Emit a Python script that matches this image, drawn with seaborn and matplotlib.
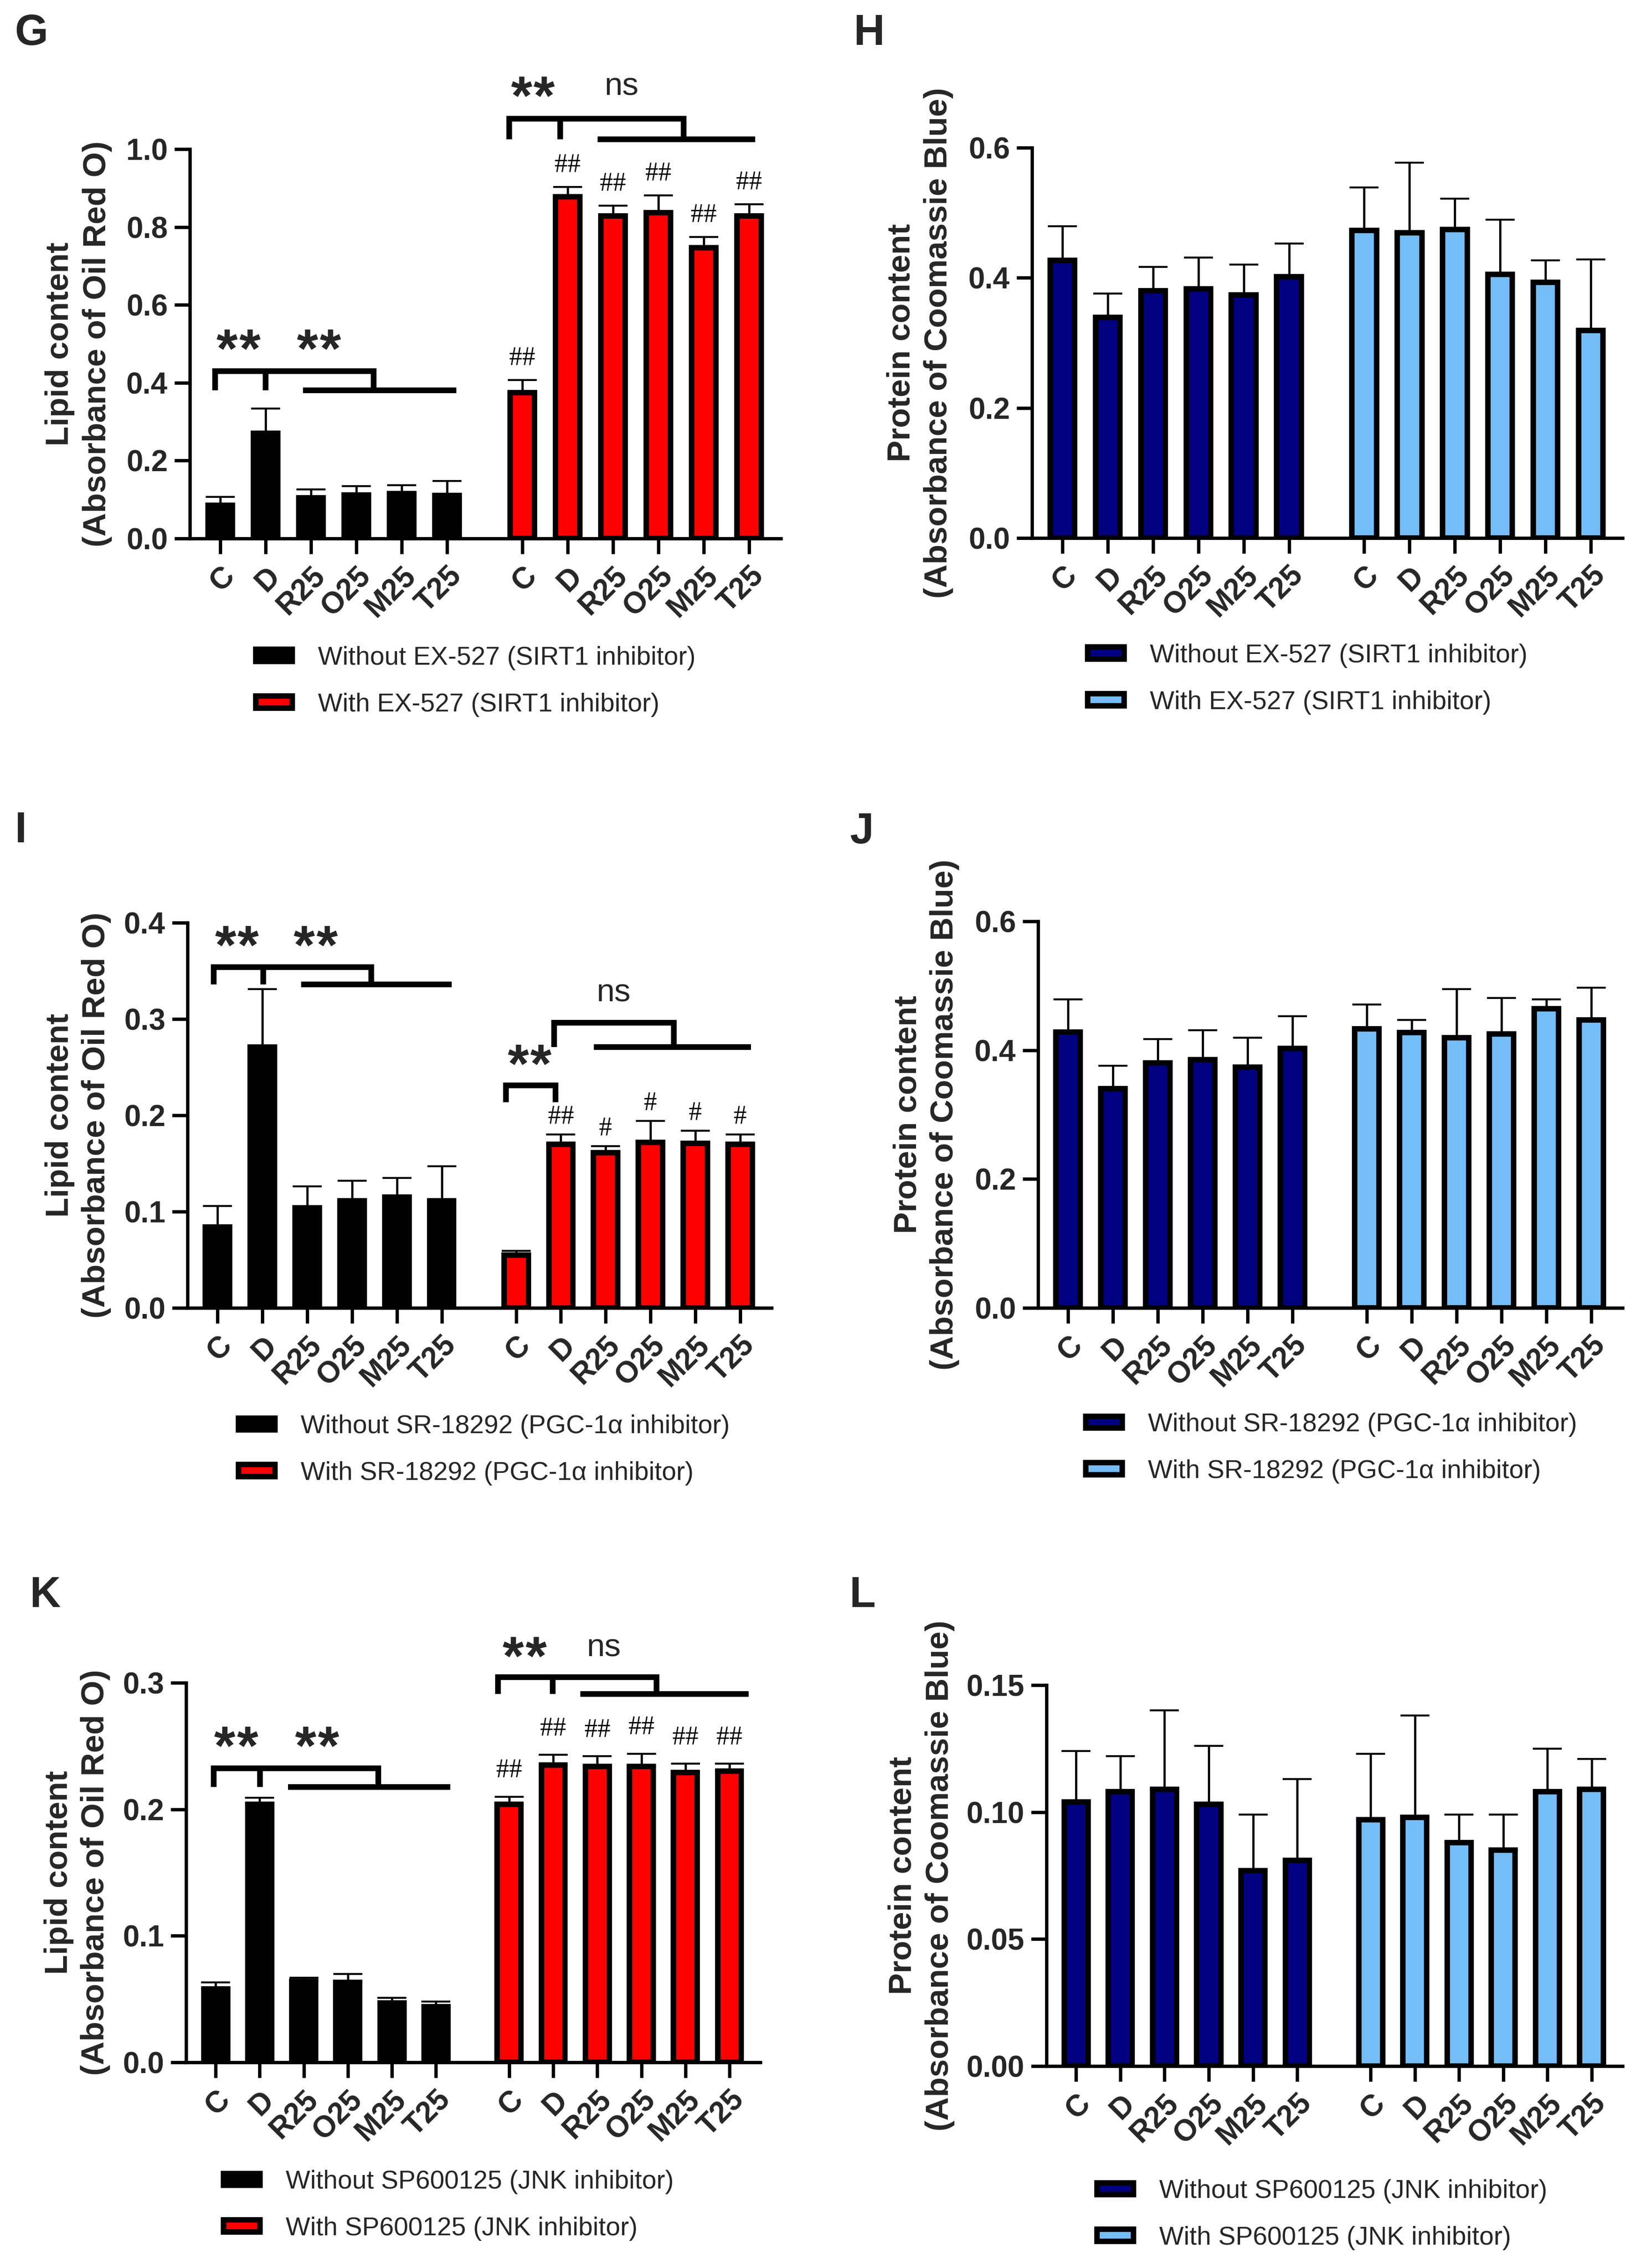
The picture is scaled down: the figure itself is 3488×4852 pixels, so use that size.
import numpy as np
import pandas as pd
import seaborn as sns
import matplotlib.pyplot as plt
from matplotlib.patches import Patch
from matplotlib.transforms import offset_copy

W, H, DPI = 3488, 4852, 200

categories = ['C', 'D', 'R25', 'O25', 'M25', 'T25']

# G: lipid content with / without EX-527
g_without = [0.085, 0.270, 0.105, 0.112, 0.115, 0.110]
g_without_err = [0.022, 0.064, 0.021, 0.022, 0.022, 0.038]
g_with = [0.374, 0.877, 0.828, 0.837, 0.747, 0.828]
g_with_err = [0.033, 0.026, 0.027, 0.044, 0.027, 0.030]
g_marks = ['##', '##', '##', '##', '##', '##']

# H: protein content with / without EX-527
h_without = [0.427, 0.339, 0.380, 0.383, 0.374, 0.402]
h_without_err = [0.052, 0.037, 0.037, 0.048, 0.046, 0.051]
h_with = [0.473, 0.469, 0.474, 0.405, 0.393, 0.319]
h_with_err = [0.066, 0.108, 0.048, 0.084, 0.034, 0.109]

# I: lipid content with / without SR-18292
i_without = [0.084, 0.271, 0.104, 0.111, 0.115, 0.111]
i_without_err = [0.022, 0.060, 0.022, 0.021, 0.020, 0.036]
i_with = [0.055, 0.170, 0.161, 0.172, 0.171, 0.170]
i_with_err = [0.004, 0.010, 0.007, 0.022, 0.013, 0.010]
i_marks = ['', '##', '#', '#', '#', '#']

# J: protein content with / without SR-18292
j_without = [0.428, 0.340, 0.380, 0.385, 0.374, 0.403]
j_without_err = [0.051, 0.036, 0.037, 0.046, 0.045, 0.050]
j_with = [0.433, 0.427, 0.419, 0.425, 0.464, 0.447]
j_with_err = [0.038, 0.020, 0.076, 0.056, 0.015, 0.050]

# K: lipid content with / without SP600125
k_without = [0.058, 0.204, 0.064, 0.063, 0.047, 0.044]
k_without_err = [0.005, 0.005, 0.003, 0.007, 0.004, 0.004]
k_with = [0.204, 0.235, 0.234, 0.234, 0.229, 0.230]
k_with_err = [0.006, 0.008, 0.008, 0.010, 0.007, 0.006]
k_marks = ['##', '##', '##', '##', '##', '##']

# L: protein content with / without SP600125
l_without = [0.104, 0.108, 0.109, 0.103, 0.077, 0.081]
l_without_err = [0.020, 0.014, 0.031, 0.023, 0.022, 0.032]
l_with = [0.097, 0.098, 0.088, 0.085, 0.108, 0.109]
l_with_err = [0.026, 0.040, 0.011, 0.014, 0.017, 0.012]

lipid_colors = ['#000000', '#FF0000']
protein_colors = ['#000080', '#74BDF7']

pos_without = np.arange(6, dtype=float)
pos_with = np.arange(6) + 6.66

sns.set_theme(style='ticks')
plt.rcParams['font.family'] = ['Liberation Sans', 'DejaVu Sans']

fig = plt.figure(figsize=(W / DPI, H / DPI), dpi=DPI)

LW_AX = 2.6
LW_BAR = 4.2
LW_BR = 4.4
STAR_FS = 42
NS_FS = 25


def rect(left, top, right, bottom):
    return [left / W, 1 - bottom / H, (right - left) / W, (bottom - top) / H]


def bracket(ax, x0, x1, top, bot, legs=(), span=None):
    kw = dict(color='black', lw=LW_BR, clip_on=False, solid_joinstyle='miter',
              solid_capstyle='butt')
    ax.plot([x0, x0, x1, x1], [bot, top, top, bot], **kw)
    for x in legs:
        ax.plot([x, x], [top, bot], **kw)
    if span is not None:
        ax.plot(span, [bot, bot], **kw)


def sig(ax, x, y, s):
    # y is the visual centre of the glyphs
    if s == 'ns':
        tr = offset_copy(ax.transData, fig=fig, y=-0.26 * NS_FS, units='points')
        ax.text(x, y, s, ha='center', va='baseline', fontsize=NS_FS, clip_on=False,
                transform=tr)
        return
    # two asterisks set a little apart, as in the original
    n = len(s)
    for k in range(n):
        dx = (k - (n - 1) / 2) * 17.6
        tr = offset_copy(ax.transData, fig=fig, x=dx, y=-0.43 * STAR_FS, units='points')
        ax.text(x, y, '*', ha='center', va='baseline', fontsize=STAR_FS,
                fontweight='bold', clip_on=False, transform=tr)


def panel(box, without, without_err, with_, with_err, colors, labels, yticks, yfmt,
          ylabel, ylabel_x, letter, letter_xy, legend_xy, marks=None, mark_off=0.05):
    ax = fig.add_axes(rect(*box))
    df = pd.DataFrame({
        'pos': np.concatenate([pos_without, pos_with]),
        'value': without + with_,
        'group': [labels[0]] * 6 + [labels[1]] * 6,
    })
    sns.barplot(data=df, x='pos', y='value', hue='group',
                palette=dict(zip(labels, colors)), native_scale=True, dodge=False,
                errorbar=None, width=0.54, saturation=1, edgecolor='black',
                linewidth=LW_BAR, legend=False, ax=ax)
    err = np.array(without_err + with_err)
    ax.errorbar(df['pos'], df['value'], yerr=[np.zeros(12), err], fmt='none',
                ecolor='black', elinewidth=1.7, capsize=11, capthick=1.5, zorder=0.5)

    ax.set_xlim(-0.67, 12.36)
    ax.set_ylim(0, yticks[-1])
    ax.set_yticks(yticks)
    ax.set_yticklabels([yfmt.format(t) for t in yticks], fontweight='bold')
    ax.set_xticks(df['pos'])
    ax.set_xticklabels(categories * 2, rotation=45, ha='right', rotation_mode='anchor',
                       fontweight='bold')
    ax.set_xlabel('')
    ax.set_ylabel('')
    sns.despine(ax=ax)
    for s in ['left', 'bottom']:
        ax.spines[s].set_linewidth(LW_AX)
        ax.spines[s].set_color('black')
    ax.tick_params(axis='x', length=12, width=LW_AX, labelsize=23, pad=6, color='black')
    ax.tick_params(axis='y', length=12, width=LW_AX, labelsize=23, pad=5, color='black')

    if marks is not None:
        top = yticks[-1]
        for x, m, v, e in zip(pos_with, marks, with_, with_err):
            if m:
                ax.text(x, v + e + mark_off * top, m, ha='center', va='center',
                        family='Liberation Serif', fontsize=20, color='black')

    ymid = (box[1] + box[3]) / 2
    fig.text(ylabel_x / W, 1 - ymid / H, ylabel, rotation=90, ha='center', va='center',
             fontsize=25, fontweight='bold', linespacing=1.3, multialignment='center')
    fig.text(letter_xy[0] / W, 1 - letter_xy[1] / H, letter, fontsize=33,
             fontweight='bold', ha='center', va='center')

    handles = [Patch(facecolor=c, edgecolor='black', linewidth=LW_BAR, label=l)
               for c, l in zip(colors, labels)]
    fig.legend(handles=handles, loc='center left',
               bbox_to_anchor=(legend_xy[0] / W, 1 - legend_xy[1] / H),
               frameon=False, fontsize=20, handlelength=1.4, handleheight=0.34,
               handletextpad=1.0, labelspacing=0.85, borderpad=0, borderaxespad=0)
    return ax


lipid_label = 'Lipid content\n(Absorbance of Oil Red O)'
protein_label = 'Protein content\n(Absorbance of Coomassie Blue)'

# G
ax = panel((406, 319, 1670, 1152), g_without, g_without_err, g_with, g_with_err,
           lipid_colors,
           ['Without EX-527 (SIRT1 inhibitor)', 'With EX-527 (SIRT1 inhibitor)'],
           [0.0, 0.2, 0.4, 0.6, 0.8, 1.0], '{:.1f}', lipid_label, 168, 'G', (67, 72),
           (547, 1458), marks=g_marks, mark_off=0.055)
bracket(ax, -0.11, 3.38, 0.430, 0.380, legs=[1.0], span=(1.82, 5.21))
bracket(ax, 6.37, 10.22, 1.078, 1.025, legs=[7.49], span=(8.32, 11.79))
sig(ax, 0.40, 0.50, '**')
sig(ax, 2.17, 0.50, '**')
sig(ax, 6.89, 1.15, '**')
sig(ax, 8.84, 1.16, 'ns')

# H
panel((2207, 316, 3470, 1151), h_without, h_without_err, h_with, h_with_err,
      protein_colors,
      ['Without EX-527 (SIRT1 inhibitor)', 'With EX-527 (SIRT1 inhibitor)'],
      [0.0, 0.2, 0.4, 0.6], '{:.1f}', protein_label, 1967, 'H', (1859, 72),
      (2326, 1453))

# I
ax = panel((401, 1974, 1650, 2798), i_without, i_without_err, i_with, i_with_err,
           lipid_colors,
           ['Without SR-18292 (PGC-1\u03b1 inhibitor)', 'With SR-18292 (PGC-1\u03b1 inhibitor)'],
           [0.0, 0.1, 0.2, 0.3, 0.4], '{:.1f}', lipid_label, 167, 'I', (45, 1778),
           (510, 3102), marks=i_marks, mark_off=0.045)
bracket(ax, -0.09, 3.43, 0.354, 0.336, legs=[1.02], span=(1.87, 5.22))
bracket(ax, 7.51, 10.18, 0.296, 0.271, span=(8.40, 11.9))
bracket(ax, 6.43, 7.54, 0.231, 0.2135)
sig(ax, 0.43, 0.382, '**')
sig(ax, 2.19, 0.382, '**')
sig(ax, 6.96, 0.2585, '**')
sig(ax, 8.83, 0.327, 'ns')

# J
panel((2220, 1971, 3470, 2798), j_without, j_without_err, j_with, j_with_err,
      protein_colors,
      ['Without SR-18292 (PGC-1\u03b1 inhibitor)', 'With SR-18292 (PGC-1\u03b1 inhibitor)'],
      [0.0, 0.2, 0.4, 0.6], '{:.1f}', protein_label, 1981, 'J', (1843, 1780),
      (2322, 3098))

# K
ax = panel((398, 3600, 1626, 4412), k_without, k_without_err, k_with, k_with_err,
           lipid_colors,
           ['Without SP600125 (JNK inhibitor)', 'With SP600125 (JNK inhibitor)'],
           [0.0, 0.1, 0.2, 0.3], '{:.1f}', lipid_label, 165, 'K', (97, 3414),
           (478, 4718), marks=k_marks, mark_off=0.068)
bracket(ax, -0.04, 3.69, 0.2325, 0.2177, legs=[1.01], span=(1.64, 5.32))
bracket(ax, 6.41, 10.0, 0.3045, 0.291, legs=[7.65], span=(8.28, 12.09))
sig(ax, 0.46, 0.254, '**')
sig(ax, 2.30, 0.254, '**')
sig(ax, 7.01, 0.325, '**')
sig(ax, 8.81, 0.3275, 'ns')

# L
panel((2238, 3605, 3470, 4420), l_without, l_without_err, l_with, l_with_err,
      protein_colors,
      ['Without SP600125 (JNK inhibitor)', 'With SP600125 (JNK inhibitor)'],
      [0.0, 0.05, 0.10, 0.15], '{:.2f}', protein_label, 1970, 'L', (1845, 3414),
      (2346, 4738))

fig.savefig('out.png', dpi=DPI, facecolor='white')
